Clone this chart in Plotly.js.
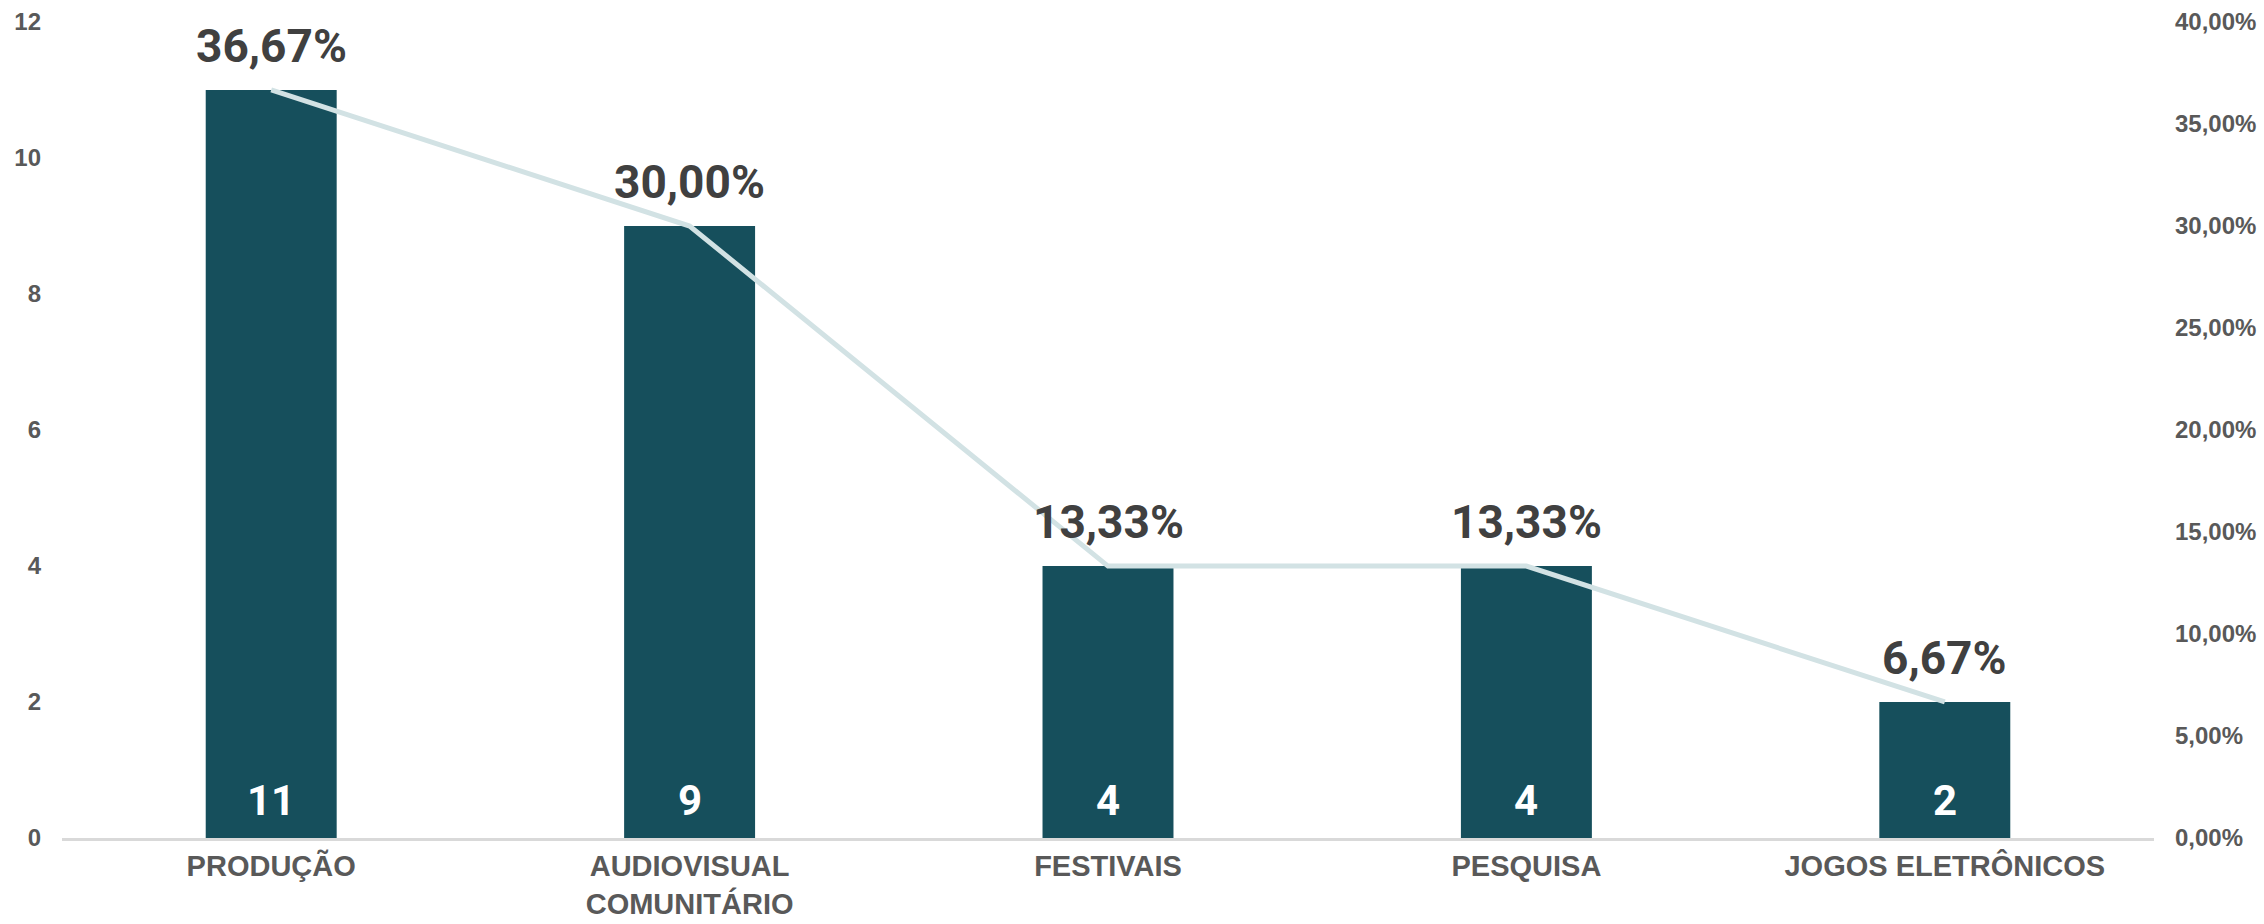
<!DOCTYPE html>
<html>
<head>
<meta charset="utf-8">
<script src="https://cdn.plot.ly/plotly-3.0.1.min.js"></script>
<style>
  html, body { margin: 0; padding: 0; background: #ffffff; }
  #chart { width: 2264px; height: 924px; }
</style>
</head>
<body>
<div id="chart"></div>
<script>
const categories = ["PRODUÇÃO", "AUDIOVISUAL<br>COMUNITÁRIO", "FESTIVAIS", "PESQUISA", "JOGOS ELETRÔNICOS"];
const counts = [11, 9, 4, 4, 2];
const shares = [0.3667, 0.3000, 0.1333, 0.1333, 0.0667];
const leftTicks = [0, 2, 4, 6, 8, 10, 12];
const rightTicks = [0, 0.05, 0.10, 0.15, 0.20, 0.25, 0.30, 0.35, 0.40];

const fmtPct = v => (v * 100).toFixed(2).replace('.', ',') + '%';

const barColor = '#164F5C';
const lineColor = '#D2E2E4';
const tickColor = '#595959';
const labelColor = '#404040';
const condensed = 'Roboto, "DejaVu Sans Condensed", sans-serif';
const arial = '"Liberation Sans", Arial, sans-serif';

const traces = [
  {
    type: 'bar',
    x: categories,
    y: counts,
    marker: { color: barColor },
    hoverinfo: 'x+y',
    yaxis: 'y'
  },
  {
    type: 'scatter',
    mode: 'lines',
    x: categories,
    y: shares,
    yaxis: 'y2',
    line: { color: lineColor, width: 5 },
    hoverinfo: 'x+y'
  }
];

const annotations = [];
categories.forEach((c, i) => {
  annotations.push({
    x: c, y: shares[i], xref: 'x', yref: 'y2',
    text: '<b>' + fmtPct(shares[i]) + '</b>',
    showarrow: false, yanchor: 'bottom', xanchor: 'center', yshift: 15,
    font: { family: condensed, size: 46, color: labelColor }
  });
  annotations.push({
    x: c, y: 0, xref: 'x', yref: 'y',
    text: '<b>' + counts[i] + '</b>',
    showarrow: false, yanchor: 'bottom', xanchor: 'center', yshift: 11,
    font: { family: condensed, size: 42, color: '#ffffff' }
  });
});

const layout = {
  width: 2264,
  height: 924,
  margin: { l: 62, r: 110, t: 22, b: 86 },
  paper_bgcolor: '#ffffff',
  plot_bgcolor: '#ffffff',
  showlegend: false,
  bargap: 0.687,
  separators: ', ',
  xaxis: {
    type: 'category',
    showgrid: false,
    showline: true,
    linecolor: '#D9D9D9',
    linewidth: 3,
    ticks: '',
    tickfont: { family: arial, size: 29, color: tickColor, weight: 'bold' },
    ticklabelstandoff: 0,
    zeroline: false
  },
  yaxis: {
    range: [0, 12],
    tickvals: leftTicks,
    ticktext: leftTicks.map(String),
    showgrid: false,
    zeroline: false,
    showline: false,
    ticks: '',
    tickfont: { family: arial, size: 24, color: tickColor, weight: 'bold' },
    ticklabelstandoff: 20
  },
  yaxis2: {
    range: [0, 0.4],
    overlaying: 'y',
    side: 'right',
    tickvals: rightTicks,
    ticktext: rightTicks.map(fmtPct),
    showgrid: false,
    zeroline: false,
    showline: false,
    ticks: '',
    tickfont: { family: arial, size: 24, color: tickColor, weight: 'bold' },
    ticklabelstandoff: 20
  },
  annotations: annotations
};

Plotly.newPlot('chart', traces, layout, { displayModeBar: false, staticPlot: true });
</script>
</body>
</html>
